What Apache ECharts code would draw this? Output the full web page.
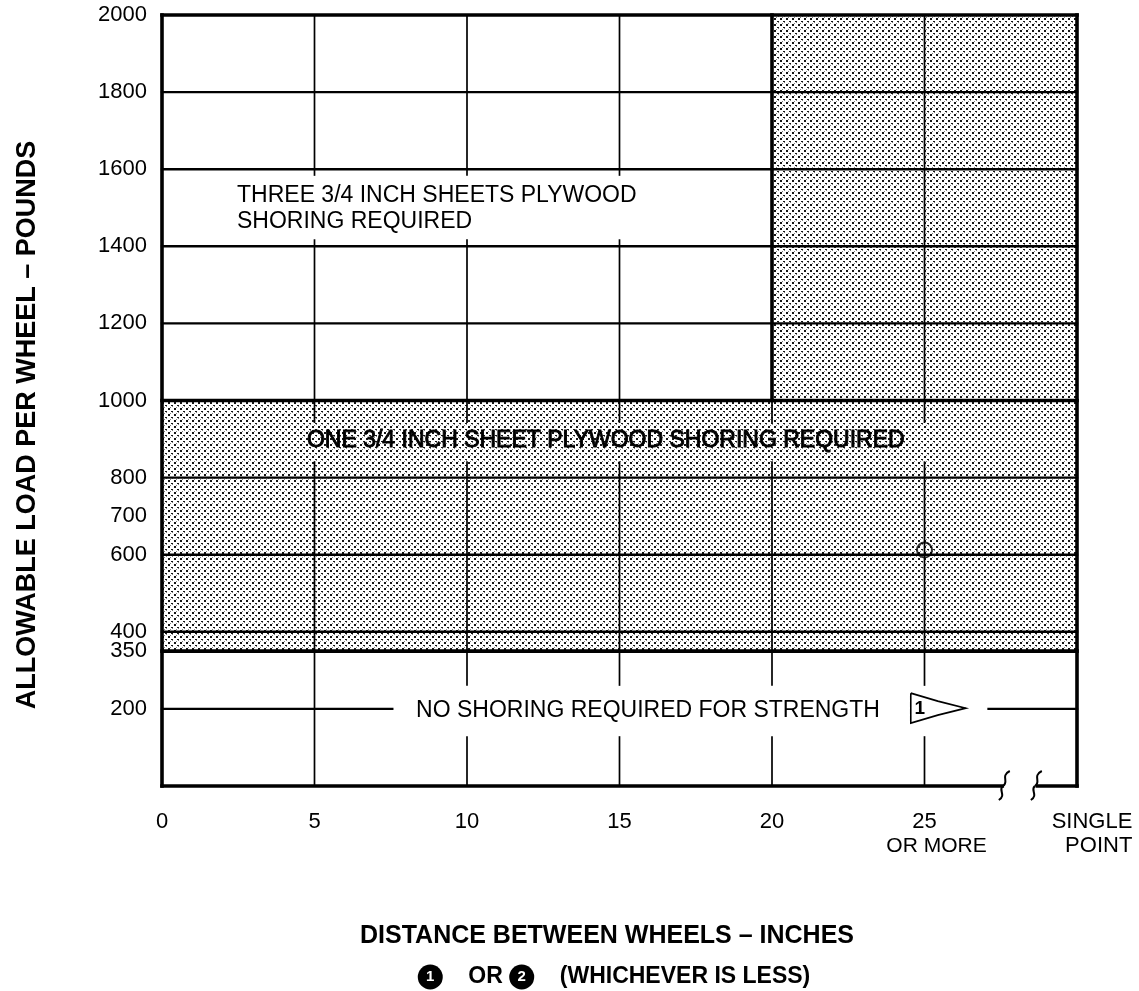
<!DOCTYPE html>
<html>
<head>
<meta charset="utf-8">
<script src="https://cdn.jsdelivr.net/npm/echarts@6/dist/echarts.min.js"></script>
<style>
html,body{margin:0;padding:0;background:#fff;}
#chart{width:1139px;height:991px;}
</style>
</head>
<body>
<div id="chart"></div>
<script>
// ---- axis ticks / labels ----
const xTicks = [0, 5, 10, 15, 20, 25, 30];
const xTickLabels = ['0', '5', '10', '15', '20', '25\nOR MORE', 'SINGLE\nPOINT'];
const yTicks = [200, 350, 400, 600, 700, 800, 1000, 1200, 1400, 1600, 1800, 2000];
const yTickLabels = ['200', '350', '400', '600', '700', '800', '1000', '1200', '1400', '1600', '1800', '2000'];

// ---- shoring zones (shaded): [xFrom, xTo, loadFrom, loadTo] ----
const shadedZones = [
  [0, 30, 350, 1000],
  [20, 30, 1000, 2000]
];

// ---- zone boundaries and frame: [x1, load1, x2, load2] ----
const boundaryLines = [
  [0, 2000, 30, 2000],
  [0, 1000, 30, 1000],
  [0, 350, 30, 350],
  [0, 0, 27.55, 0],
  [28.7, 0, 30, 0],
  [0, 0, 0, 2000],
  [30, 0, 30, 2000],
  [20, 1000, 20, 2000]
];

// ---- horizontal grid loads (full width) ----
const gridLoads = [400, 600, 800, 1200, 1400, 1600, 1800];
// ---- load 200 line segments: [x1, load, x2, load] ----
const load200Segments = [
  [0, 200, 7.55, 200],
  [27.1, 200, 30, 200]
];
// ---- vertical grid segments: [x, loadFrom, x, loadTo] ----
const verticalGridSegments = [
  [5, 1585, 5, 2000], [5, 944, 5, 1416], [5, 0, 5, 840],
  [10, 1585, 10, 2000], [10, 944, 10, 1416], [10, 262, 10, 840], [10, 0, 10, 127],
  [15, 1585, 15, 2000], [15, 944, 15, 1416], [15, 262, 15, 840], [15, 0, 15, 127],
  [20, 944, 20, 1000], [20, 262, 20, 840], [20, 0, 20, 127],
  [25, 944, 25, 2000], [25, 262, 25, 840], [25, 0, 25, 127]
];

// ---- zone captions ----
const zoneCaptions = [
  'THREE 3/4 INCH SHEETS PLYWOOD\nSHORING REQUIRED',
  'ONE 3/4 INCH SHEET PLYWOOD SHORING REQUIRED',
  'NO SHORING REQUIRED FOR STRENGTH'
];

// ---- example point ----
const examplePoint = [[25, 612]];

// ---- stipple pattern ----
const tile = document.createElement('canvas');
tile.width = 6; tile.height = 6;
const tg = tile.getContext('2d');
tg.fillStyle = '#ffffff'; tg.fillRect(0, 0, 6, 6);
tg.fillStyle = '#141414'; tg.fillRect(0, 0, 2, 2); tg.fillRect(3, 3, 2, 1);
tg.fillStyle = '#808080'; tg.fillRect(4, 4, 1, 1); tg.fillRect(2, 5, 1, 1);
const stipple = { image: tile, repeat: 'repeat' };

const FONT = '"Liberation Sans", Arial, Helvetica, sans-serif';

const horizontalGrid = gridLoads.map(v => [0, v, 30, v]).concat(load200Segments);

function segSeries(name, data, width, z) {
  return {
    type: 'custom', name: name, data: data, z: z, silent: true, clip: false,
    encode: { x: [0, 2], y: [1, 3] },
    renderItem: function (params, api) {
      const a = api.coord([api.value(0), api.value(1)]);
      const b = api.coord([api.value(2), api.value(3)]);
      return {
        type: 'line',
        shape: { x1: a[0], y1: a[1], x2: b[0], y2: b[1] },
        style: { stroke: '#000', lineWidth: width, lineCap: 'square' }
      };
    }
  };
}

const captionData = [
  { value: [2.46, 1497], align: 'left', bold: false },
  { value: [14.55, 895], align: 'center', bold: true },
  { value: [8.33, 195], align: 'left', bold: false }
];

const chart = echarts.init(document.getElementById('chart'), null, { renderer: 'canvas' });

const option = {
  backgroundColor: '#ffffff',
  animation: false,
  grid: { left: 162, right: 62, top: 15, bottom: 205, containLabel: false, outerBoundsMode: 'none' },
  xAxis: {
    type: 'value', min: 0, max: 30,
    axisLine: { show: false }, axisTick: { show: false }, splitLine: { show: false },
    axisLabel: {
      customValues: xTicks,
      margin: 24,
      color: '#000',
      fontFamily: FONT,
      fontSize: 22,
      formatter: function (v) {
        const s = xTickLabels[xTicks.indexOf(v)] || '';
        const parts = s.split('\n');
        if (v === 25) return '{a|' + parts[0] + '}\n{b|' + parts[1] + '}';
        if (v === 30) return '{s|' + parts[0] + '}\n{s|' + parts[1] + '}';
        return '{a|' + s + '}';
      },
      rich: {
        a: { fontSize: 22, lineHeight: 24, fontFamily: FONT, color: '#000' },
        b: { fontSize: 21, lineHeight: 24, fontFamily: FONT, color: '#000', padding: [0, 0, 0, 24] },
        s: { fontSize: 22, lineHeight: 24, fontFamily: FONT, color: '#000', align: 'right', padding: [0, 0, 0, 30] }
      }
    }
  },
  yAxis: {
    type: 'value', min: 0, max: 2000,
    axisLine: { show: false }, axisTick: { show: false }, splitLine: { show: false },
    axisLabel: {
      customValues: yTicks,
      margin: 15,
      color: '#000',
      fontFamily: FONT,
      fontSize: 22,
      formatter: function (v) { return yTickLabels[yTicks.indexOf(v)] || ''; }
    }
  },
  graphic: [
    {
      type: 'text', x: 28, y: 425, rotation: Math.PI / 2,
      style: { text: 'ALLOWABLE LOAD PER WHEEL – POUNDS', font: 'bold 27px ' + FONT, fill: '#000', align: 'center', verticalAlign: 'middle' }
    },
    {
      type: 'text', x: 607, y: 936,
      style: { text: 'DISTANCE BETWEEN WHEELS – INCHES', font: 'bold 25px ' + FONT, fill: '#000', align: 'center', verticalAlign: 'middle' }
    },
    {
      type: 'text', x: 614, y: 977,
      style: {
        text: '{n|1}    {t|OR} {n|2}    {t|(WHICHEVER IS LESS)}',
        font: 'bold 23px ' + FONT, fill: '#000', align: 'center', verticalAlign: 'middle',
        rich: {
          n: { width: 25, height: 25, lineHeight: 25, borderRadius: 13, backgroundColor: '#000', fill: '#fff', align: 'center', verticalAlign: 'middle', fontSize: 15, fontWeight: 'bold', fontFamily: FONT },
          t: { fontSize: 23, fontWeight: 'bold', fontFamily: FONT, fill: '#000' }
        }
      }
    }
  ],
  series: [
    {
      type: 'custom', name: 'shoring zones', data: shadedZones, z: 1, silent: true, clip: false,
      encode: { x: [0, 1], y: [2, 3] },
      renderItem: function (params, api) {
        const p1 = api.coord([api.value(0), api.value(3)]);
        const p2 = api.coord([api.value(1), api.value(2)]);
        return {
          type: 'rect',
          shape: { x: p1[0], y: p1[1], width: p2[0] - p1[0], height: p2[1] - p1[1] },
          style: { fill: stipple }
        };
      }
    },
    segSeries('horizontal grid', horizontalGrid, 2.4, 2),
    segSeries('vertical grid', verticalGridSegments, 1.7, 2),
    segSeries('boundaries', boundaryLines, 3.6, 3),
    {
      type: 'custom', name: 'axis break', z: 4, silent: true, clip: false,
      data: [[27.6, 0], [28.65, 0]],
      encode: { x: 0, y: 1 },
      renderItem: function (params, api) {
        const c = api.coord([api.value(0), api.value(1)]);
        return {
          type: 'group',
          children: [
            { type: 'bezierCurve',
              shape: { x1: c[0] + 6, y1: c[1] - 15, x2: c[0] - 1, y2: c[1], cpx1: c[0] - 4, cpy1: c[1] - 10, cpx2: c[0] + 6, cpy2: c[1] - 4 },
              style: { stroke: '#000', lineWidth: 2, fill: null } },
            { type: 'bezierCurve',
              shape: { x1: c[0] - 1, y1: c[1], x2: c[0] - 5, y2: c[1] + 14, cpx1: c[0] - 6, cpy1: c[1] + 4, cpx2: c[0] + 3, cpy2: c[1] + 9 },
              style: { stroke: '#000', lineWidth: 2, fill: null } }
          ]
        };
      }
    },
    {
      type: 'custom', name: 'zone captions', z: 5, silent: true, clip: false,
      encode: { x: 0, y: 1 },
      data: captionData,
      renderItem: function (params, api) {
        const c = api.coord([api.value(0), api.value(1)]);
        const item = captionData[params.dataIndex];
        return {
          type: 'text', x: c[0], y: c[1],
          style: {
            text: zoneCaptions[params.dataIndex], font: '23px ' + FONT, fill: '#000',
            align: item.align, verticalAlign: 'middle', lineHeight: 26,
            stroke: item.bold ? '#000' : null, lineWidth: item.bold ? 0.9 : 0
          }
        };
      }
    },
    {
      type: 'custom', name: 'note flag', z: 5, silent: true, clip: false,
      encode: { x: 0, y: 1 },
      data: [[24.55, 202]],
      renderItem: function (params, api) {
        const c = api.coord([api.value(0), api.value(1)]);
        return {
          type: 'group', x: c[0], y: c[1],
          children: [
            { type: 'polyline', shape: { points: [[0, -15], [27, -7], [55, 0], [27, 7], [0, 15], [0, -15]] },
              style: { stroke: '#000', lineWidth: 1.6, fill: '#fff' } },
            { type: 'text', x: 9, y: 1, style: { text: '1', font: 'bold 19px ' + FONT, fill: '#000', align: 'center', verticalAlign: 'middle' } }
          ]
        };
      }
    },
    {
      type: 'scatter', name: 'example', data: examplePoint, z: 6, silent: true,
      symbol: 'circle', symbolSize: 15,
      itemStyle: { color: 'rgba(0,0,0,0)', borderColor: '#000', borderWidth: 2 }
    }
  ]
};

chart.setOption(option);
</script>
</body>
</html>
